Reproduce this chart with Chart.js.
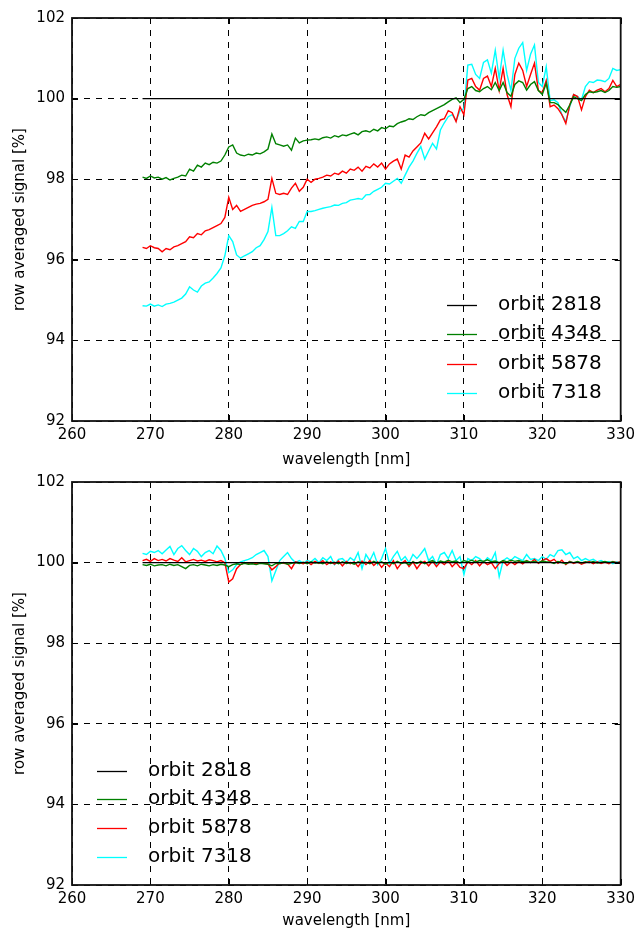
<!DOCTYPE html>
<html>
<head>
<meta charset="utf-8">
<script src="https://cdn.jsdelivr.net/npm/chart.js@4/dist/chart.umd.min.js"></script>
<style>
  body { margin: 0; background: #fff; }
  #wrap { position: relative; width: 640px; height: 933px; }
  canvas { position: absolute; left: 0; }
</style>
</head>
<body>
<div id="wrap">
  <canvas id="topChart" width="640" height="469" style="top:0"></canvas>
  <canvas id="bottomChart" width="640" height="467" style="top:466px"></canvas>
</div>
<script>
// wavelength grid [nm]
const wavelength = [
  269,269.5,270,270.5,271,271.5,272,272.5,273,273.5,
  274,274.5,275,275.5,276,276.5,277,277.5,278,278.5,
  279,279.5,280,280.5,281,281.5,282,282.5,283,283.5,
  284,284.5,285,285.5,286,286.5,287,287.5,288,288.5,
  289,289.5,290,290.5,291,291.5,292,292.5,293,293.5,
  294,294.5,295,295.5,296,296.5,297,297.5,298,298.5,
  299,299.5,300,300.5,301,301.5,302,302.5,303,303.5,
  304,304.5,305,305.5,306,306.5,307,307.5,308,308.5,
  309,309.5,310,310.5,311,311.5,312,312.5,313,313.5,
  314,314.5,315,315.5,316,316.5,317,317.5,318,318.5,
  319,319.5,320,320.5,321,321.5,322,322.5,323,323.5,
  324,324.5,325,325.5,326,326.5,327,327.5,328,328.5,
  329,329.5,330
];

// reference orbit: flat at 100 % over the whole range
const wl2818 = [269, 330];
const orbit2818 = [100, 100];

// upper panel: row averaged signal
const top4348 = [
  98.05,98.02,98.08,98.03,98.05,98.00,98.04,97.98,98.02,98.05,
  98.10,98.08,98.25,98.20,98.35,98.30,98.40,98.36,98.42,98.40,
  98.45,98.60,98.80,98.85,98.65,98.60,98.58,98.62,98.60,98.65,
  98.63,98.68,98.75,99.12,98.88,98.85,98.82,98.85,98.72,99.02,
  98.90,98.95,98.97,98.98,99.00,98.98,99.03,99.05,99.02,99.08,
  99.05,99.10,99.08,99.12,99.15,99.10,99.18,99.20,99.17,99.24,
  99.20,99.28,99.25,99.32,99.30,99.38,99.42,99.45,99.50,99.48,
  99.55,99.60,99.58,99.65,99.70,99.75,99.80,99.85,99.92,99.98,
  100.02,99.90,99.98,100.25,100.30,100.20,100.17,100.25,100.30,100.22,
  100.40,100.20,100.40,100.15,100.06,100.35,100.44,100.40,100.21,100.35,
  100.42,100.20,100.10,100.38,99.90,99.90,99.85,99.75,99.66,99.84,
  100.05,100.00,99.95,100.10,100.17,100.15,100.17,100.20,100.15,100.20,
  100.30,100.28,100.30
];
const top5878 = [
  96.31,96.28,96.35,96.30,96.28,96.20,96.28,96.25,96.32,96.35,
  96.40,96.45,96.57,96.55,96.65,96.62,96.72,96.75,96.80,96.85,
  96.90,97.05,97.55,97.25,97.35,97.20,97.25,97.30,97.35,97.38,
  97.40,97.44,97.50,98.02,97.65,97.62,97.65,97.62,97.78,97.90,
  97.70,97.80,98.00,97.92,98.00,98.02,98.05,98.10,98.08,98.15,
  98.12,98.20,98.15,98.25,98.22,98.30,98.20,98.32,98.28,98.38,
  98.30,98.40,98.25,98.38,98.45,98.50,98.25,98.60,98.55,98.70,
  98.80,98.90,99.14,99.00,99.15,99.30,99.47,99.50,99.70,99.65,
  99.43,99.80,99.60,100.46,100.50,100.30,100.21,100.50,100.56,100.30,
  100.75,100.20,100.75,100.10,99.80,100.60,100.88,100.70,100.30,100.60,
  100.88,100.20,100.15,100.45,99.80,99.84,99.75,99.60,99.38,99.84,
  100.10,100.05,99.72,100.05,100.21,100.15,100.21,100.25,100.17,100.25,
  100.45,100.30,100.35
];
const top7318 = [
  94.86,94.85,94.90,94.85,94.88,94.84,94.90,94.92,94.95,95.00,
  95.05,95.15,95.33,95.25,95.20,95.35,95.42,95.45,95.55,95.66,
  95.80,96.10,96.60,96.45,96.12,96.04,96.10,96.15,96.20,96.30,
  96.35,96.50,96.70,97.30,96.60,96.60,96.65,96.72,96.82,96.78,
  96.95,96.95,97.20,97.20,97.22,97.25,97.28,97.30,97.32,97.36,
  97.35,97.40,97.42,97.48,97.50,97.52,97.50,97.61,97.62,97.70,
  97.75,97.80,97.90,97.88,97.95,98.02,97.90,98.10,98.30,98.45,
  98.64,98.81,98.50,98.70,98.89,98.75,99.22,99.40,99.55,99.60,
  99.45,99.70,99.75,100.83,100.85,100.60,100.50,100.90,100.96,100.63,
  101.20,100.50,101.20,100.60,100.20,101.00,101.25,101.39,100.70,101.10,
  101.33,100.40,100.30,100.79,99.95,99.97,99.90,99.60,99.43,99.80,
  100.10,100.05,99.97,100.30,100.42,100.40,100.46,100.45,100.42,100.50,
  100.75,100.70,100.72
];

// lower panel: corrected signal
const bot4348 = [
  99.95,99.93,99.96,99.92,99.94,99.95,99.92,99.96,99.93,99.95,
  99.90,99.85,99.93,99.95,99.92,99.96,99.94,99.92,99.95,99.93,
  99.96,99.94,99.90,99.95,99.97,99.95,99.98,99.96,99.97,99.95,
  99.98,99.97,99.96,99.92,99.98,99.97,100.00,99.96,99.98,100.00,
  99.98,100.01,99.97,100.02,99.99,100.00,99.97,100.02,99.98,100.01,
  99.97,100.02,99.98,100.00,99.96,100.02,99.99,100.01,99.97,100.03,
  99.98,100.02,99.96,100.01,99.97,100.03,99.98,100.00,99.95,100.02,
  99.98,100.03,99.97,100.02,100.05,99.99,100.04,100.01,100.06,100.02,
  100.04,99.99,100.05,100.02,100.06,100.01,100.05,100.03,100.07,100.02,
  100.04,100.00,100.05,100.02,100.06,100.03,100.05,100.02,100.04,100.01,
  100.03,100.00,100.04,100.02,100.01,99.98,100.03,100.00,99.97,100.02,
  100.00,100.03,99.99,100.02,100.00,100.03,99.99,100.01,100.03,100.00,
  100.02,99.99,100.01
];
const bot5878 = [
  100.05,100.08,100.03,100.10,100.05,100.08,100.04,100.10,100.06,100.03,
  100.12,100.02,100.05,100.08,100.04,100.06,100.03,100.07,100.05,100.02,
  100.05,100.00,99.52,99.60,99.85,99.95,100.00,99.98,100.00,99.97,
  100.00,99.98,99.97,99.82,99.90,100.00,99.98,99.97,99.85,100.02,
  100.00,99.97,100.02,99.95,100.03,99.98,100.05,99.95,100.02,99.96,
  100.04,99.92,100.03,99.97,100.02,99.90,100.04,99.95,100.05,99.93,
  100.02,99.88,100.00,99.90,100.05,99.85,99.98,100.05,99.90,100.02,
  99.85,99.98,100.03,99.92,100.04,99.90,100.02,99.95,100.05,99.90,
  100.00,99.88,99.85,100.02,99.95,100.05,99.92,100.03,99.95,100.00,
  99.85,99.98,100.04,99.93,100.02,99.95,100.03,99.97,100.05,100.00,
  100.08,99.98,100.05,100.10,100.03,100.08,99.98,100.06,99.95,100.03,
  99.98,100.02,99.96,100.00,100.03,99.97,100.02,99.98,100.01,99.97,
  100.03,100.00,100.02
];
const bot7318 = [
  100.23,100.20,100.28,100.25,100.30,100.22,100.31,100.40,100.20,100.35,
  100.42,100.30,100.20,100.35,100.28,100.15,100.25,100.30,100.22,100.41,
  100.30,100.10,99.75,99.82,99.95,100.02,100.05,100.08,100.12,100.20,
  100.25,100.30,100.15,99.55,99.80,100.05,100.15,100.25,100.10,100.00,
  100.05,99.98,100.05,100.02,100.10,100.00,100.12,100.05,100.15,99.95,
  100.08,100.10,100.00,100.12,100.05,100.25,99.85,100.20,100.05,100.25,
  99.95,100.10,100.35,99.98,100.15,100.28,100.05,100.15,100.00,100.20,
  100.10,100.22,100.35,100.05,100.15,99.95,100.20,100.25,100.10,100.30,
  100.05,100.15,99.70,100.10,100.05,100.15,100.10,100.00,100.12,100.05,
  100.25,99.65,100.05,100.12,100.05,100.15,100.10,100.05,100.20,100.08,
  100.10,100.05,100.15,100.08,100.20,100.15,100.30,100.32,100.20,100.25,
  100.10,100.15,100.05,100.10,100.05,100.08,100.02,100.05,100.00,100.03,
  99.97,100.02,99.98
];

const labels = ['orbit 2818', 'orbit 4348', 'orbit 5878', 'orbit 7318'];
const colors = ['#000000', '#008000', '#ff0000', '#00ffff'];
const xTicks = [260, 270, 280, 290, 300, 310, 320, 330];
const yTicks = [92, 94, 96, 98, 100, 102];

const FONT = '"DejaVu Sans", "Liberation Sans", sans-serif';

function pts(xs, ys) {
  return xs.map((x, i) => ({ x: x, y: ys[i] }));
}

// box around the axes, inward tick marks and a frameless legend
const framePlugin = {
  id: 'frame',
  afterDraw(chart, args, opts) {
    const ctx = chart.ctx;
    const a = chart.chartArea;
    const xs = chart.scales.x, ys = chart.scales.y;
    ctx.save();
    ctx.strokeStyle = '#000';
    ctx.lineWidth = 1;
    ctx.beginPath();
    xs.ticks.forEach(t => {
      const px = Math.round(xs.getPixelForValue(t.value)) + 0.5;
      ctx.moveTo(px, a.bottom); ctx.lineTo(px, a.bottom - 6);
      ctx.moveTo(px, a.top); ctx.lineTo(px, a.top + 6);
    });
    ys.ticks.forEach(t => {
      const py = Math.round(ys.getPixelForValue(t.value)) + 0.5;
      ctx.moveTo(a.left, py); ctx.lineTo(a.left + 6, py);
      ctx.moveTo(a.right, py); ctx.lineTo(a.right - 6, py);
    });
    ctx.stroke();
    ctx.lineWidth = 1.8;
    ctx.strokeStyle = '#111';
    ctx.strokeRect(a.left, a.top, a.right - a.left, a.bottom - a.top);

    ctx.font = '20px ' + FONT;
    ctx.textBaseline = 'middle';
    ctx.textAlign = 'left';
    chart.data.datasets.forEach((ds, i) => {
      const ly = Math.round(opts.y + i * opts.gap) + 0.5;
      ctx.strokeStyle = ds.borderColor;
      ctx.lineWidth = 1.3;
      ctx.beginPath();
      ctx.moveTo(opts.x, ly);
      ctx.lineTo(opts.x + 30, ly);
      ctx.stroke();
      ctx.fillStyle = '#000';
      ctx.fillText(ds.label, opts.x + 51, ly - 1);
    });
    ctx.restore();
  }
};

function makeChart(id, series, cfg) {
  const datasets = series.map((s, i) => ({
    label: labels[i],
    data: pts(s.x, s.y),
    borderColor: colors[i],
    backgroundColor: colors[i],
    borderWidth: 1.4,
    pointRadius: 0,
    tension: 0,
    order: i
  }));
  return new Chart(document.getElementById(id), {
    type: 'line',
    data: { datasets: datasets },
    plugins: [framePlugin],
    options: {
      responsive: false,
      maintainAspectRatio: false,
      animation: false,
      layout: { padding: { top: cfg.padTop, right: 19, left: 0, bottom: 0 } },
      plugins: {
        legend: { display: false },
        tooltip: { enabled: false },
        frame: cfg.legend
      },
      scales: {
        x: {
          type: 'linear',
          min: 260, max: 330,
          afterFit: s => { s.height = cfg.xHeight; },
          afterBuildTicks: s => { s.ticks = xTicks.map(v => ({ value: v })); },
          ticks: { color: '#000', font: { family: FONT, size: 15 }, padding: 5, maxRotation: 0 },
          grid: { color: '#000', lineWidth: 1, drawTicks: false },
          border: { display: false, dash: [6, 6] },
          title: {
            display: true, text: 'wavelength [nm]', color: '#000',
            font: { family: FONT, size: 15 }, padding: { top: 0, bottom: cfg.titlePad }
          }
        },
        y: {
          min: 92, max: 102,
          afterFit: s => { s.width = 72; },
          afterBuildTicks: s => { s.ticks = yTicks.map(v => ({ value: v })); },
          ticks: { color: '#000', font: { family: FONT, size: 15 }, padding: 7 },
          grid: { color: '#000', lineWidth: 1, drawTicks: false },
          border: { display: false, dash: [6, 6] },
          title: {
            display: true, text: 'row averaged signal [%]', color: '#000',
            font: { family: FONT, size: 15 }, padding: { top: 11, bottom: 0 }
          }
        }
      }
    }
  });
}

makeChart('topChart', [
  { x: wl2818, y: orbit2818 },
  { x: wavelength, y: top4348 },
  { x: wavelength, y: top5878 },
  { x: wavelength, y: top7318 }
], { padTop: 18, xHeight: 48, titlePad: 0, legend: { x: 447, y: 305, gap: 29.4 } });

makeChart('bottomChart', [
  { x: wl2818, y: orbit2818 },
  { x: wavelength, y: bot4348 },
  { x: wavelength, y: bot5878 },
  { x: wavelength, y: bot7318 }
], { padTop: 16, xHeight: 48, titlePad: 3, legend: { x: 97, y: 304.7, gap: 28.7 } });
</script>
</body>
</html>
